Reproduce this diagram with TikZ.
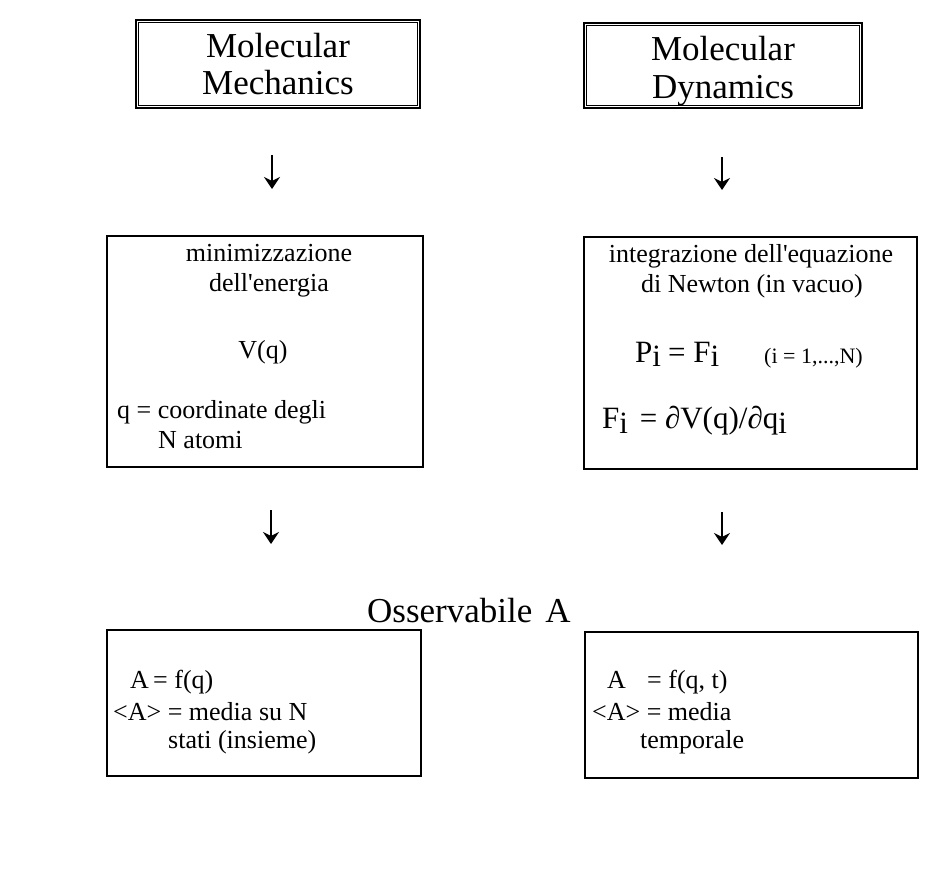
\documentclass[tikz,border=0pt]{standalone}
\usepackage{fontspec}
\setmainfont{Liberation Serif}
\newfontfamily\plainf{Liberation Serif}
\newcommand{\apos}{{\plainf '}}
\usetikzlibrary{arrows.meta}
\begin{document}
\begin{tikzpicture}[x=1pt,y=-1pt,
  box/.style={draw, line width=2.4pt, inner sep=0pt},
  ttl/.style={font=\fontsize{35}{40}\selectfont, anchor=base, inner sep=0pt},
  txt/.style={font=\fontsize{26}{30}\selectfont, anchor=base, inner sep=0pt},
  txtl/.style={txt, anchor=base west},
  eq/.style={font=\fontsize{31}{34}\selectfont, anchor=base west, inner sep=0pt},
  dn/.style={line width=1.8pt, -{Stealth[length=12pt,width=16pt,inset=4pt]}}
]
\useasboundingbox[fill=white] (0,0) rectangle (937,893);

% top boxes (double border)
\node[box, minimum width=284pt, minimum height=88pt] (mm) at (278,64) {};
\draw[line width=1.2pt] ([shift={(4pt,-4pt)}]mm.north west) rectangle ([shift={(-4pt,4pt)}]mm.south east);
\node[box, minimum width=278pt, minimum height=85pt] (md) at (723,65.5) {};
\draw[line width=1.2pt] ([shift={(4pt,-4pt)}]md.north west) rectangle ([shift={(-4pt,4pt)}]md.south east);

\node[ttl] (mm1) at (278,58) {Molecular};
\node[ttl] (mm2) at (278,95) {Mechanics};
\node[ttl] (md1) at (723,61) {Molecular};
\node[ttl] (md2) at (723,99) {Dynamics};

% middle boxes
\node[box, minimum width=316pt, minimum height=231pt] (ml) at (265,351.5) {};
\node[box, minimum width=333pt, minimum height=232pt] (mr) at (750.5,353) {};

\node[txt] (l1) at (269,262) {minimizzazione};
\node[txt] (l2) at (269,292) {dell\apos energia};
\node[txt] (l3) at (263,358) {V(q)};
\node[txtl] (l4) at (117,418) {q = coordinate degli};
\node[txtl] (l5) at (158,448) {N atomi};

\node[txt] (r1) at (751,263) {integrazione dell\apos equazione};
\node[txt] (r2) at (752,293) {di Newton (in vacuo)};
\node[eq] (r3) at (635,362) {P\lower5pt\hbox{i}\hspace{7pt}= F\lower5pt\hbox{i}};
\node[anchor=base west, inner sep=0pt, font=\fontsize{22}{24}\selectfont] (r4) at (764,363) {(i = 1,...,N)};
\node[eq] (r5) at (602,428) {F\lower5pt\hbox{i}\hspace{4pt} = ∂V(q)/∂q\lower5pt\hbox{i}};

% observable
\node[anchor=base west, inner sep=0pt, font=\fontsize{35}{40}\selectfont] (obs) at (367,622) {Osservabile\hspace{13pt}A};

% bottom boxes
\node[box, minimum width=314pt, minimum height=146pt] (bl) at (264,703) {};
\node[box, minimum width=333pt, minimum height=146pt] (br) at (751.5,705) {};

\node[txtl] (b1a) at (130,688) {A};
\node[txtl] (b1b) at (153,688) {= f(q)};
\node[txtl] (b2) at (113,720) {<A> = media su N};
\node[txtl] (b3) at (168,748) {stati (insieme)};

\node[txtl] (c1a) at (607,688) {A};
\node[txtl] (c1b) at (647,688) {= f(q, t)};
\node[txtl] (c2) at (592,720) {<A> = media};
\node[txtl] (c3) at (640,748) {temporale};

% arrows
\coordinate (a1s) at (272,155); \coordinate (a1e) at (272,189);
\coordinate (a2s) at (722,157); \coordinate (a2e) at (722,190);
\coordinate (a3s) at (271,510); \coordinate (a3e) at (271,544);
\coordinate (a4s) at (722,512); \coordinate (a4e) at (722,545);
\draw[dn] (a1s) -- (a1e);
\draw[dn] (a2s) -- (a2e);
\draw[dn] (a3s) -- (a3e);
\draw[dn] (a4s) -- (a4e);
\end{tikzpicture}
\end{document}
